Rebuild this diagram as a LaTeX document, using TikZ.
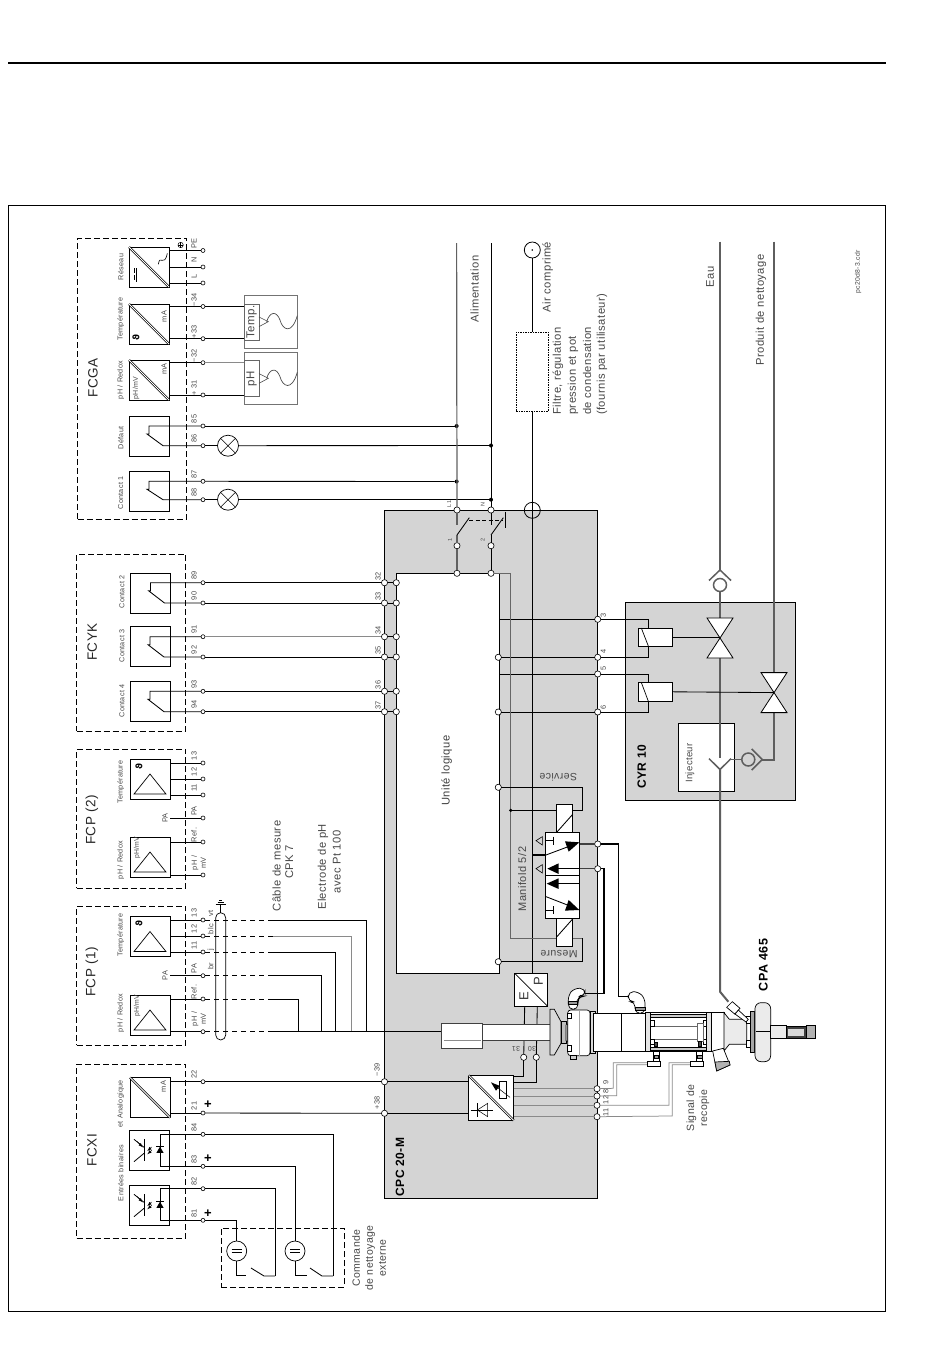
\documentclass[tikz,border=0pt]{standalone}
\usepackage{fontspec}
\setmainfont{Liberation Sans}[LetterSpace=4]
\newfontfamily\djv{DejaVu Sans}
\usetikzlibrary{calc}
\definecolor{cpanel}{HTML}{D4D4D4}
\definecolor{lab}{HTML}{484848}
\definecolor{pipec}{HTML}{5E5E5E}
\definecolor{swire}{HTML}{8A8A8A}
\tikzset{
 x=1pt,y=-1pt,
 wire/.style={black,line width=.85pt},
 gwire/.style={draw=swire,line width=.75pt},
 lline/.style={draw=black!62,line width=1.2pt},
 pipe/.style={draw=pipec,line width=2pt},
 airl/.style={draw=black,line width=1.6pt},
 dbox/.style={draw,dash pattern=on 6pt off 3pt,line width=.7pt},
 dwire/.style={wire,dash pattern=on 5pt off 4pt},
 term/.style={circle,draw,fill=white,inner sep=0,minimum size=4pt,line width=.6pt,outer sep=0},
 bterm/.style={circle,draw,fill=white,inner sep=0,minimum size=6.2pt,line width=.6pt,outer sep=0},
 jdot/.style={circle,fill=black,inner sep=0,minimum size=4pt,outer sep=0},
 tlab/.style={rotate=90,font=\fontsize{7.4}{8}\selectfont,text=lab,inner sep=0,align=center},
 ulab/.style={tlab,font=\fontsize{7.2}{8}\selectfont},
 unit/.style={draw,fill=white,minimum size=40pt,inner sep=0,outer sep=0,line width=.8pt},
 blk/.style={draw,fill=white,inner sep=0,outer sep=0,line width=.8pt},
 lamp/.style={circle,draw,fill=white,minimum size=21pt,inner sep=0,outer sep=0,line width=.7pt},
 ttl/.style={rotate=90,font=\fontsize{13.5}{15}\selectfont,text=black!85,inner sep=0},
 bigt/.style={rotate=90,font=\fontsize{11.2}{14}\selectfont,text=lab,inner sep=0,align=center},
 boldt/.style={rotate=90,font=\bfseries\fontsize{12}{14}\selectfont,inner sep=0},
 dbl/.style={double,double distance=.9pt,line width=.7pt},
}
\newcounter{tn}
\newcommand{\txt}[3]{\stepcounter{tn}\node[#1] (txt\arabic{tn}) at (#2) {#3};}
% terminal of a transmitter: name, y, label
\newcommand{\tm}[3]{\node[term] (#1) at (203,#2) {}; \node[tlab] (#1l) at (194,#2-7) {#3};}
\newcommand{\relay}[3]{\draw[wire] (#2) -- (#1.center |- #2) -- ++(0,8) -- ++(-2,0) -- ($(#1.center |- #3)+(14,0)$) -- (#3);}
\newcommand{\conv}[1]{\draw[dbl] (#1.north west) -- (#1.south east);}
\newcommand{\coil}[1]{\draw[line width=.7pt] ($(#1.south west)+(10,0)$) -- ($(#1.north west)+(3,0)$);}
\newcommand{\vlv}[2]{\draw[fill=white,line width=.8pt] (#1-13,#2-20) -- (#1+13,#2-20) -- (#1-13,#2+20) -- (#1+13,#2+20) -- cycle;}
\begin{document}
\begin{tikzpicture}
\useasboundingbox (0,0) rectangle (950,1370);
\fill[white] (0,0) rectangle (950,1370);
\draw[line width=1.3pt] (8,63) -- (886,63);
\draw[line width=.6pt] (8,205) rectangle (885,1311);

% ---------- panels
\node[draw,fill=cpanel,minimum width=213pt,minimum height=688pt,inner sep=0,outer sep=0,line width=.8pt] (cpc) at (491,854) {};
\node[draw,fill=white,minimum width=103pt,minimum height=400pt,inner sep=0,outer sep=0,line width=.8pt] (logic) at (447.8,773.2) {};
\node[draw,fill=cpanel,minimum width=170pt,minimum height=198pt,inner sep=0,outer sep=0,line width=.8pt] (cyr) at (710,701) {};

% ---------- dashed groups
\node[dbox,minimum width=109pt,minimum height=281pt,inner sep=0] (gFCGA) at (132,378.5) {};
\node[dbox,minimum width=109pt,minimum height=177pt,inner sep=0] (gFCYK) at (131.2,642.5) {};
\node[dbox,minimum width=109pt,minimum height=139pt,inner sep=0] (gF2) at (131.2,818.7) {};
\node[dbox,minimum width=109pt,minimum height=139pt,inner sep=0] (gF1) at (131.2,975.5) {};
\node[dbox,minimum width=109pt,minimum height=174pt,inner sep=0] (gX) at (131.2,1151) {};
\node[dbox,minimum width=123pt,minimum height=59pt,inner sep=0] (gC) at (282.5,1257.5) {};
\txt{ttl}{93,378}{FCGA}
\txt{ttl}{92.3,642}{FCYK}
\txt{ttl}{92,820}{FCP (2)}
\txt{ttl}{92,972}{FCP (1)}
\txt{ttl}{92,1150}{FCXI}

% ---------- units
\node[unit] (uRes) at (149,267) {};
\node[unit] (uTemp) at (149,324) {};
\node[unit] (uPh) at (149,380) {};
\node[unit] (uDef) at (149,436.5) {};
\node[unit] (uCa) at (149,491.5) {};
\node[unit] (uCb) at (150.5,593) {};
\node[unit] (uCc) at (150,646) {};
\node[unit] (uCd) at (150,701) {};
\node[unit] (ftB) at (150,779) {};
\node[unit] (fpB) at (150,857) {};
\node[unit] (ftA) at (150,936.5) {};
\node[unit] (fpA) at (150,1015) {};
\node[unit] (xA) at (150,1097.5) {};
\node[unit] (xC) at (149,1150) {};
\node[unit] (xB) at (149,1205) {};
\foreach \b in {uRes,uTemp,uPh,xA} {\conv{\b}}
\foreach \b in {ftB,fpB,ftA,fpA} {\draw[line width=.7pt] ($(\b.north)+(-16,35)$) -- ($(\b.north)+(0,15)$) -- ($(\b.north)+(16,35)$) -- cycle;}

% unit labels
\txt{ulab}{120.7,267}{Réseau}
\txt{ulab}{120.7,319}{Température}
\txt{ulab}{120.7,380}{pH / Redox}
\txt{ulab}{120.7,438}{Défaut}
\txt{ulab}{120.7,493}{Contact 1}
\txt{ulab}{122,592}{Contact 2}
\txt{ulab}{122,646}{Contact 3}
\txt{ulab}{122,701}{Contact 4}
\txt{ulab}{120.7,782}{Température}
\txt{ulab}{120.7,860}{pH / Redox}
\txt{ulab}{120.7,935}{Température}
\txt{ulab}{120.7,1013}{pH / Redox}
\txt{ulab}{120.7,1103.7}{et Analogique}
\txt{ulab}{120.7,1173}{Entrées binaires}
\txt{tlab,font=\fontsize{7}{8}\selectfont}{136,388}{pH/mV}
\txt{tlab}{164,316.7}{mA}
\txt{tlab}{164,369}{mA}
\txt{tlab}{163.3,1086.7}{mA}
\txt{tlab,font=\fontsize{6.8}{8}\selectfont}{137,848}{pH/mV}
\txt{tlab,font=\fontsize{6.8}{8}\selectfont}{137,1006}{pH/mV}
\txt{rotate=90,inner sep=0,font=\djv\bfseries\fontsize{9}{9}\selectfont}{136,338}{ϑ}
\txt{rotate=90,inner sep=0,font=\djv\bfseries\fontsize{9}{9}\selectfont}{139,767}{ϑ}
\txt{rotate=90,inner sep=0,font=\djv\bfseries\fontsize{9}{9}\selectfont}{139,924}{ϑ}

% Réseau symbols
\begin{scope}[shift={(60,225)},x=.3333pt,y=-.3333pt]
 \draw[line width=.6pt,dash pattern=on 5pt off 2pt] (222,130) -- (222,172);
 \draw[line width=.6pt] (230,130) -- (230,172);
 \draw[line width=.6pt] (295,118) .. controls (300,85) and (312,130) .. (322,85);
 \draw[line width=.5pt,fill=white] (362,60) circle (8);
 \draw[line width=.6pt] (354,60) -- (370,60) (362,52) -- (362,68);
\end{scope}

% ---------- terminals left
\tm{tPE}{250.5}{PE} \tm{tN}{267}{N} \tm{tL}{283}{L}
\tm{t34}{306.5}{−34} \tm{t33}{338.7}{+33} \tm{t32}{362.7}{−32} \tm{t31}{395}{+ 31}
\tm{t85}{426}{85} \tm{t86}{445.7}{86} \tm{t87}{481.3}{87} \tm{t88}{499.7}{88}
\tm{t89}{582.7}{89} \tm{t90}{603}{90} \tm{t91}{636.7}{91} \tm{t92}{657}{92} \tm{t93}{691.3}{93} \tm{t94}{711.7}{94}
\tm{bt13}{763}{13} \tm{bt12}{779}{12} \tm{bt11}{795}{11} \tm{btPA}{818}{PA} \tm{btRef}{842}{Ref.}
\node[term] (btpH) at (203,875) {}; \txt{tlab}{198.7,863}{pH /\\[1pt]mV}
\tm{at13}{920}{13} \tm{at12}{936}{12} \tm{at11}{952}{11} \tm{atPA}{975.7}{PA} \tm{atRef}{999}{Ref.}
\node[term] (atpH) at (203,1031.7) {}; \txt{tlab}{198.7,1019}{pH /\\[1pt]mV}
\tm{t22}{1081.7}{22} \tm{t21}{1113}{21} \tm{t84}{1134.3}{84} \tm{t83}{1166.3}{83} \tm{t82}{1188.7}{82} \tm{t81}{1220.3}{81}
\foreach \p/\q in {208/1105,208/1159,208/1214} {\txt{inner sep=0,font=\bfseries\fontsize{13}{13}\selectfont}{\p,\q}{+}}

% wires unit -> terminal
\foreach \u/\t in {uRes/tPE,uRes/tN,uRes/tL,uTemp/t34,uTemp/t33,uPh/t32,uPh/t31,ftB/bt13,ftB/bt12,ftB/bt11,fpB/btRef,fpB/btpH,ftA/at13,ftA/at12,ftA/at11,fpA/atRef,fpA/atpH,xA/t22,xA/t21}
 {\draw[wire] (\u.east |- \t) -- (\t);}
\coordinate (paB) at (170,818); \coordinate (paA) at (170,975.7);
\draw[wire] (paB) -- (btPA); \draw[wire] (paA) -- (atPA);
\txt{tlab}{165,818}{PA}
\txt{tlab}{165,975.7}{PA}
\relay{uDef}{t85}{t86}
\relay{uCa}{t87}{t88}
\relay{uCb}{t89}{t90}
\relay{uCc}{t91}{t92}
\relay{uCd}{t93}{t94}

% sensors
\node[draw=black!55,fill=white,minimum width=53.4pt,minimum height=52.6pt,inner sep=0,outer sep=0,line width=.8pt] (sT) at (271,322) {};
\node[draw=black!55,fill=white,minimum width=53.4pt,minimum height=52.6pt,inner sep=0,outer sep=0,line width=.8pt] (sP) at (271,378.5) {};
\node[draw=black!60,minimum width=15pt,minimum height=36pt,inner sep=0,outer sep=0,line width=.8pt] (sTi) at (251.7,322) {};
\node[draw=black!60,minimum width=15pt,minimum height=36pt,inner sep=0,outer sep=0,line width=.8pt] (sPi) at (251.7,378.7) {};
\txt{rotate=90,inner sep=0,font=\fontsize{11.5}{12}\selectfont,text=lab}{251.7,322}{Temp.}
\txt{rotate=90,inner sep=0,font=\fontsize{11.5}{12}\selectfont,text=lab}{251.7,378.7}{pH}
\draw[wire] (t34) -- (sT.west |- t34);
\draw[wire] (t33) -- (sT.west |- t33);
\draw[wire,draw=swire] (t32) -- (sP.west |- t32);
\draw[wire] (t31) -- (sP.west |- t31);
\foreach \dy in {0,170} {
 \begin{scope}[shift={(60,225)},x=.3333pt,y=-.3333pt]
  \draw[line width=.6pt,draw=black!70] (597,276+\dy) -- (625,290+\dy) -- (597,305+\dy);
  \draw[line width=.7pt,draw=black!70] (620,290+\dy) .. controls (630,258+\dy) and (650,258+\dy) .. (660,285+\dy) .. controls (668,315+\dy) and (695,330+\dy) .. (712,272+\dy);
 \end{scope}
}

% FCXI inputs
\foreach \ya/\yb/\yc/\yd/\dy in {t84/t83/1134.3/1166.3/0,t82/t81/1188.7/1220.3/55} {
 \draw[wire] (\ya) -- (160,\yc) -- (160,\yd) -- (\yb);
 \begin{scope}[yshift=-\dy pt]
 \begin{scope}[shift={(60,890)},x=.3333pt,y=-.3333pt]
  \draw[line width=.8pt] (252,748) -- (252,812);
  \draw[line width=.8pt] (252,772) -- (222,748);
  \draw[line width=.8pt] (252,790) -- (222,815);
  \draw[-latex,line width=.5pt] (232,755) -- (248,772);
  \draw[line width=.5pt,-latex] (275,771) -- (262,783);
  \draw[line width=.5pt,-latex] (275,781) -- (262,793);
  \fill (289,789) -- (311,789) -- (300,770) -- cycle;
  \draw[line width=.7pt] (289,770) -- (311,770);
 \end{scope}
 \end{scope}
}
% external cleaning command
\node[circle,draw,fill=white,minimum size=20pt,inner sep=0,outer sep=0,line width=.7pt] (psA) at (236.7,1251) {};
\node[circle,draw,fill=white,minimum size=20pt,inner sep=0,outer sep=0,line width=.7pt] (psB) at (295,1251) {};
\foreach \c in {psA,psB} {\draw[line width=.6pt] ($(\c.center)+(-5,-1.5)$) -- ($(\c.center)+(5,-1.5)$) ($(\c.center)+(-5,1.5)$) -- ($(\c.center)+(5,1.5)$);}
\draw[wire] (t81) -- (psA.north |- t81) -- (psA.north);
\draw[wire] (t83) -- (psB.north |- t83) -- (psB.north);
\draw[wire] (psA.south) -- (236.7,1275) -- (246,1275);
\draw[wire] (251,1268) -- (264,1276) -- (275,1276);
\draw[wire] (t82) -- (275,1188.7) -- (275,1276);
\draw[wire] (psB.south) -- (295,1275) -- (307,1275);
\draw[wire] (310,1268) -- (322,1276) -- (333,1276);
\draw[wire] (t84) -- (333,1134.3) -- (333,1276);

% cable FCP(1)
\draw[line width=.7pt,rounded corners=5pt] (215.7,912.7) rectangle (225.7,1040);
\draw[wire] (220.7,912.7) -- (220.7,904.7);
\draw[line width=.7pt] (215.7,904.7) -- (225.7,904.7) (217.5,902.3) -- (223.9,902.3) (219.2,900) -- (222.2,900);
\txt{tlab}{210.7,913}{vt}
\txt{tlab}{210.7,929}{blc}
\txt{tlab}{210.7,950}{j}
\txt{tlab}{210.7,966}{br}
\coordinate (a1) at (273,920); \coordinate (a2) at (273,936); \coordinate (a3) at (273,952);
\coordinate (a4) at (273,975.7); \coordinate (a5) at (273,999); \coordinate (a6) at (273,1031.7);
\draw[dwire] (at13) -- (a1); \draw[dwire] (at12) -- (a2); \draw[dwire] (at11) -- (a3);
\draw[dwire] (atPA) -- (a4); \draw[dwire] (atRef) -- (a5); \draw[dwire] (atpH) -- (a6);
\draw[wire] (a1) -| (366.7,1031.7);
\draw[wire,draw=swire] (a2) -| (351.7,1031.7);
\draw[wire] (a3) -| (335.7,1031.7);
\draw[wire] (a4) -| (321.7,1031.7);
\draw[wire] (a5) -| (298.7,1031.7);

% Long wires to CPC
\foreach \t/\n/\y in {t89/32/582.7,t90/33/603,t91/34/636.7,t92/35/657,t93/36/691.3,t94/37/711.7} {
 \node[bterm] (Lc\n) at (384.5,\y) {};
 \node[bterm] (Ic\n) at (396.3,\y) {};
 \draw[wire] (\t) -- (Lc\n);
 \draw[wire] (Lc\n) -- (Ic\n);
 \txt{tlab}{378,\y-6.5}{\n}
}
\draw[wire,draw=swire,line width=1.2pt] (t91) -- (Lc34);

% supply
\coordinate (Ltop) at (456.6,243); \coordinate (Ntop) at (491,243);
\node[bterm] (TLa) at (457,510) {}; \node[bterm] (TNa) at (491,510) {};
\node[bterm] (TLb) at (457,545.7) {}; \node[bterm] (TNb) at (491,545.7) {};
\node[bterm] (TLc) at (457,573.3) {}; \node[bterm] (TNc) at (491,573.3) {};
\node[jdot] (j85) at (456.6,426) {}; \node[jdot] (j86) at (491,445.5) {};
\node[jdot] (j87) at (456.6,481.5) {}; \node[jdot] (j88) at (491,499.7) {};
\node[lamp] (lA) at (228,445.7) {}; \node[lamp] (lB) at (228,499.7) {};
\foreach \l in {lA,lB} {\draw[line width=.6pt] (\l.45) -- (\l.225) (\l.135) -- (\l.315);}
\draw[wire] (t85) -- (j85); \draw[wire] (t86) -- (lA); \draw[wire] (lA) -- (j86);
\draw[wire] (t87) -- (j87); \draw[wire] (t88) -- (lB); \draw[wire] (lB) -- (j88);
\draw[lline] (Ltop) -- (TLa);
\draw[wire,line width=.9pt] (Ntop) -- (TNa);
\draw[lline] (TLa) -- (457,524.7);
\draw[wire] (TNa) -- (491,524.7);
\draw[lline] (TLb) -- (457,535);
\draw[wire] (TNb) -- (491,535);
\draw[lline] (TLb) -- (TLc);
\draw[wire] (TNb) -- (TNc);
\draw[wire] (457,535) -- (469.3,517.7);
\draw[wire] (491,535) -- (503.3,517.7);
\draw[wire,dash pattern=on 4pt off 2.5pt] (469,520.7) -- (503,520.7);
\draw[wire] (505.7,511.7) -- (505.7,527.7);
\txt{tlab,font=\fontsize{5.5}{6}\selectfont}{449.3,504}{L1}
\txt{tlab,font=\fontsize{5.5}{6}\selectfont}{482.7,505}{N}
\txt{tlab,font=\fontsize{5.5}{6}\selectfont}{450,540}{1}
\txt{tlab,font=\fontsize{5.5}{6}\selectfont}{482.7,540}{2}
\txt{bigt}{474.7,289}{Alimentation}

% air
\node[circle,draw,fill=white,minimum size=16pt,inner sep=0,outer sep=0,line width=.8pt] (airin) at (532.3,250) {};
\fill (532.3,250) circle (.9);
\node[draw,dash pattern=on 1.5pt off 1pt,fill=white,minimum width=32pt,minimum height=79pt,inner sep=0,outer sep=0,line width=.7pt] (filt) at (532.3,371.7) {};
\node[draw,fill=none,circle,minimum size=16pt,inner sep=0,outer sep=0,line width=.8pt] (airpass) at (532.3,510.3) {};
\node[blk,minimum size=33pt] (ep) at (531.2,989.8) {};
\draw[wire,line width=.9pt] (airin) -- (filt);
\draw[airl] (filt) -- (532.3,973.3);
\draw[wire] (airpass.west) -- (airpass.east);
\draw[line width=.7pt] (ep.north west) -- (ep.south east);
\txt{rotate=90,inner sep=0,font=\fontsize{13}{13}\selectfont,text=black!80}{524,996}{E}
\txt{rotate=90,inner sep=0,font=\fontsize{13}{13}\selectfont,text=black!80}{538.3,980.7}{P}
\txt{bigt}{547.7,277}{Air comprimé}
\txt{bigt,anchor=west}{558,415}{Filtre, régulation}
\txt{bigt,anchor=west}{573,415}{pression et pot}
\txt{bigt,anchor=west}{587,415}{de condensation}
\txt{bigt,anchor=west}{602,415}{(fournis par utilisateur)}

% right side of logic unit
\node[bterm] (Ra) at (597.7,619.3) {}; \node[bterm] (Rb) at (597.7,657.3) {};
\node[bterm] (Rc) at (597.7,674) {}; \node[bterm] (Rd) at (597.7,712) {};
\node[bterm] (Ib) at (498.3,657.3) {}; \node[bterm] (Id) at (498.3,712) {};
\node[bterm] (Ise) at (498.3,787.3) {}; \node[bterm] (Ime) at (498.3,961.7) {};
\draw[wire] (logic.east |- Ra) -- (Ra); \draw[wire] (Ib) -- (Rb);
\draw[wire] (logic.east |- Rc) -- (Rc); \draw[wire] (Id) -- (Rd);
\txt{tlab}{603.3,615.7}{3}
\txt{tlab}{603.3,651.7}{4}
\txt{tlab}{603.3,668.3}{5}
\txt{tlab}{603.3,707.3}{6}
\txt{bigt,text=black!75}{446.7,770.7}{Unité logique}

% service gas line
\draw[draw=black!60,line width=.9pt] (TNc) -- (510.7,573.3) -- (510.7,938.3) -- (582.3,938.3);
\draw[wire] (Ime) -- (582.3,961.7) -- (582.3,938.3);
\node[jdot,minimum size=3.5pt] (jSe) at (510.7,810.3) {};
\draw[wire] (Ise) -- (582.3,787.3) -- (582.3,810.3) -- (jSe);

% manifold
\node[blk,minimum width=16pt,minimum height=27.6pt] (solU) at (564.7,818.5) {};
\node[blk,minimum width=16pt,minimum height=27.6pt] (solD) at (564.7,932.1) {};
\draw[wire] (solU.south west) -- ++(16,-18);
\draw[wire] (solD.south west) ++(0,-9) -- ++(16,-18);
\node[blk,minimum width=33.8pt,minimum height=86pt] (mfd) at (562.6,875.3) {};
\begin{scope}[shift={(490,770)},x=.3333pt,y=-.3333pt]
 \draw[wire] (166,316) -- (269,316);
 \draw[wire] (168,255) -- (240,228);
 \fill (268,217) -- (225,214) -- (236,245) -- cycle;
 \draw[wire] (200,296) -- (269,296);
 \fill (172,296) -- (206,280) -- (206,312) -- cycle;
 \draw[wire] (200,341) -- (269,341);
 \fill (170,341) -- (206,325) -- (206,357) -- cycle;
 \draw[wire] (168,380) -- (240,408);
 \fill (268,420) -- (236,390) -- (225,422) -- cycle;
 \draw[wire] (166,212) -- (190,212) (190,200) -- (190,224);
 \draw[wire] (166,421) -- (190,421) (190,409) -- (190,433);
 \draw[line width=.6pt,fill=cpanel] (138,212) -- (157,200) -- (157,225) -- cycle;
 \draw[line width=.6pt,fill=cpanel] (138,296) -- (157,284) -- (157,309) -- cycle;
\end{scope}
\draw[airl] (532.3,855) -- (545.7,855);
\txt{bigt,font=\fontsize{11}{12}\selectfont}{522.3,879}{Manifold 5/2}
\txt{inner sep=0,rotate=180,font=\fontsize{10.5}{11}\selectfont,text=lab}{558.3,777.7}{Service}
\txt{inner sep=0,rotate=180,font=\fontsize{10.5}{11}\selectfont,text=lab}{559,954}{Mesure}
\node[bterm] (Mx) at (597.7,844) {}; \node[bterm] (My) at (597.7,868.7) {};
\draw[draw=black!75,line width=1.2pt] (mfd.east |- Mx) -- (Mx);
\draw[draw=black!75,line width=1.2pt] (mfd.east |- My) -- (My);
\draw[wire,line width=1.4pt] (Mx) -- (618.3,844) -- (618.3,996.7) -- (628.3,996.7);
\draw[wire,line width=1.4pt] (My) -- (604,868.7) -- (604,993.3) -- (585,993.3);

% transducer
\node[bterm] (L39) at (384.5,1081.7) {}; \node[bterm] (L38) at (384.5,1113.3) {};
\node[blk,minimum size=45pt] (tr) at (491.2,1098) {};
\conv{tr}
\draw[wire] (t22) -- (L39); \draw[wire] (t21) -- (L38);
\draw[wire] (L39) -- (tr.west |- L39); \draw[wire] (L38) -- (tr.west |- L38);
\txt{tlab}{377,1070}{−39}
\txt{tlab}{377,1103}{+38}
\begin{scope}[shift={(420,960)},x=.3333pt,y=-.3333pt]
 \draw[line width=.6pt,fill=white] (238,364) rectangle (260,415);
 \draw[line width=.5pt] (270,412) -- (235,385);
 \fill (213,367) -- (240,378) -- (228,392) -- cycle;
 \draw[line width=.5pt] (152,450) -- (218,450);
 \draw[line width=.5pt] (172,430) -- (172,470);
 \draw[line width=.5pt] (172,450) -- (203,430) -- (203,470) -- cycle;
\end{scope}
\node[bterm] (T31) at (523.7,1057.3) {}; \node[bterm] (T30) at (536.3,1057.3) {};
\draw[wire] (524.7,1006.3) -- (T31); \draw[wire] (537.3,1006.3) -- (T30);
\draw[wire] (T31) -- (523.7,1076.3) -- (513.7,1076.3);
\draw[wire] (T30) -- (536.3,1082.3) -- (513.7,1082.3);
\txt{inner sep=0,rotate=180,font=\fontsize{7}{8}\selectfont,text=lab}{516,1049.3}{31}
\txt{inner sep=0,rotate=180,font=\fontsize{7}{8}\selectfont,text=lab}{532,1049.3}{30}
\node[bterm] (R9) at (597,1088.7) {}; \node[bterm] (R8) at (597,1096) {};
\node[bterm] (R12) at (597,1105.3) {}; \node[bterm] (R11) at (597,1116.7) {};
\foreach \r in {R9,R8,R12,R11} {\draw[gwire,line width=1pt] (tr.east |- \r) -- (\r);}
\txt{tlab}{605.7,1082.7}{9}
\txt{tlab}{605.7,1091.7}{8}
\txt{tlab}{605.7,1100}{12}
\txt{tlab}{605.7,1112}{11}
\txt{boldt}{400,1167}{CPC 20-M}
\txt{boldt}{641.7,767}{CYR 10}
\txt{boldt,font=\bfseries\fontsize{12.5}{14}\selectfont}{763.3,965}{CPA 465}

% feedback lines
\begin{scope}[shift={(600,920)},x=.3333pt,y=-.3333pt]
 \draw[gwire] (R9) -- (40,505) -- (40,428) -- (150,428);
 \draw[gwire] (R8) -- (50,527) -- (50,434) -- (150,434);
 \draw[gwire] (R12) -- (207,556) -- (207,428) -- (280,428);
 \draw[gwire] (R11) -- (217,588) -- (217,434) -- (280,434);
\end{scope}
\txt{bigt,font=\fontsize{10.5}{13}\selectfont}{698,1108}{Signal de\\recopie}

% CYR 10
\node[blk,minimum width=34pt,minimum height=18pt] (coA) at (655.3,637) {};
\node[blk,minimum width=34pt,minimum height=18.8pt] (coB) at (655.3,691.8) {};
\coil{coA}\coil{coB}
\draw[wire] (Ra) -| ($(coA.north west)+(10,0)$);
\draw[wire] (Rb) -| ($(coA.south west)+(10,0)$);
\draw[wire] (Rc) -| ($(coB.north west)+(10,0)$);
\draw[wire] (Rd) -| ($(coB.south west)+(10,0)$);
\node[blk,minimum width=56pt,minimum height=68.4pt] (inj) at (706.3,757.2) {};
\txt{bigt,font=\fontsize{9.5}{11}\selectfont}{690,763}{Injecteur}
\coordinate (eauT) at (720,241.6); \coordinate (prodT) at (774,241.6);
\node[circle,draw=pipec,line width=1.5pt,inner sep=0,minimum size=13pt,outer sep=0] (chkA) at (720,585) {};
\draw[pipe] (eauT) -- (720,570);
\draw[pipe,line width=1.5pt] (709,580.5) -- (720,570) -- (731,580.5);
\draw[pipe] (chkA) -- (720,757.5);
\draw[pipe] (prodT) -- (774,759.5) -- (762.3,759.5);
\node[circle,draw=pipec,line width=1.5pt,inner sep=0,minimum size=13pt,outer sep=0] (chkB) at (748.3,759.5) {};
\draw[pipe,line width=1.5pt] (751.7,749) -- (762.3,759.5) -- (751.7,770);
\draw[pipe,line width=1.4pt] (chkB) -- (729,759.5);
\draw[pipe,line width=1.5pt] (709,758.6) -- (720,769.5) -- (731,758.6);
\vlv{720}{638}
\vlv{774}{692.6}
\draw[wire] (coA.east) -- (720,637);
\draw[wire] (coB.east) -- (774,692.6);
\coordinate (inlet) at (728.3,1001.7);
\draw[pipe] (720,769.5) -- (720,991.7) -- (inlet);
\txt{bigt}{710,277}{Eau}
\txt{bigt}{761,310}{Produit de nettoyage}
\txt{tlab,font=\fontsize{6.8}{7}\selectfont}{858,272}{pc20d8-3.cdr}
\txt{bigt}{276.7,866}{Câble de mesure}
\txt{bigt}{289.3,862}{CPK 7}
\txt{bigt}{323,867}{Electrode de pH}
\txt{bigt}{336.7,862}{avec Pt 100}
\txt{bigt,font=\fontsize{10.5}{13}\selectfont}{369,1258}{Commande\\de nettoyage\\externe}

% ---------- armature: rod
\node[blk,draw=black!75,minimum width=41pt,minimum height=24.3pt] (rodb) at (461.8,1035.8) {};
\draw[wire] (a6) -- (rodb.west |- a6);
\draw[draw=black!45,line width=.9pt] (443.5,1040.3) -- (480.5,1040.3);
\begin{scope}[shift={(420,960)},x=.3333pt,y=-.3333pt,line width=.7pt]
 \draw[fill=white,draw=black!75] (187,192) rectangle (390,241);
 \draw[fill=black!15] (390,148) -- (403,148) -- (423,185) -- (423,250) -- (403,285) -- (390,285) -- cycle;
 \draw[fill=black!25] (423,185) rectangle (438,250);
 \draw[fill=black!10,rounded corners=1pt] (438,192) rectangle (444,245);
 \draw[fill=white,rounded corners=3pt] (443,150) rectangle (510,287);
 \draw[draw=black!35] (478,150) -- (478,287);
 \draw[fill=black!15] (510,155) rectangle (525,280);
 \draw[fill=white] (525,160) rectangle (533,275);
 \draw[fill=white] (443,160) rectangle (455,176);
 \draw[fill=white] (443,257) rectangle (455,273);
 \draw[fill=black!20] (452,287) rectangle (468,298);
 % elbow
 \draw[fill=white,rounded corners=5pt] (445,148) -- (445,105) -- (462,85) -- (495,85) -- (495,108) -- (480,108) -- (474,118) -- (474,148) -- cycle;
 \draw[fill=black!40] (446,125) rectangle (473,133);
\end{scope}
\begin{scope}[shift={(600,920)},x=.3333pt,y=-.3333pt,line width=.7pt]
 % body
 \draw[fill=white] (-20,280) rectangle (64,393);
 \draw[fill=white] (64,280) rectangle (137,393);
 \draw[fill=black!10] (137,278) rectangle (152,393);
 % cage
 \draw[fill=white] (152,278) rectangle (320,393);
 \draw[fill=black!20] (152,283) rectangle (320,292);
 \draw[fill=black!20] (152,382) rectangle (320,390);
 \draw[draw=black!60] (160,318) -- (312,318) (160,358) -- (312,358);
 \draw[fill=white] (152,302) rectangle (162,318);
 \draw[fill=white] (152,358) rectangle (162,372);
 \draw[fill=white] (310,302) rectangle (320,318);
 \draw[fill=white] (310,358) rectangle (320,372);
 \draw[fill=white,draw=black!60] (292,310) rectangle (310,365);
 \draw[fill=black!70] (163,368) rectangle (173,378);
 \draw[fill=black!70] (295,365) rectangle (305,378);
 \draw[fill=black!10] (320,278) rectangle (335,393);
 \draw[fill=white] (335,278) rectangle (372,393);
 % cone and neck
 \draw[fill=black!8] (372,278) -- (388,298) -- (440,298) -- (440,373) -- (388,373) -- (372,393) -- cycle;
 \draw[fill=white] (440,290) rectangle (450,310);
 \draw[fill=white] (440,362) rectangle (450,382);
 \draw[fill=black!35] (450,275) rectangle (462,397);
 % disc
 \draw[fill=black!8,rounded corners=6pt] (465,248) rectangle (512,425);
 \draw[line width=1.1pt] (468,335) -- (510,335);
 % stem
 \draw[fill=black!8] (512,316) rectangle (558,355);
 \draw[fill=black!75] (558,318) rectangle (620,355);
 \draw[fill=black!15,draw=none] (565,326) rectangle (612,347);
 \draw[fill=black!30] (620,316) rectangle (647,355);
 % rinse fitting
 \draw[fill=white] (415,270) -- (445,298) -- (438,306) -- (405,282) -- cycle;
 \draw[fill=white] (380,262) -- (397,245) -- (420,265) -- (404,282) -- cycle;
 % outlet
 \draw[fill=white] (338,393) -- (370,385) -- (390,435) -- (350,453) -- cycle;
 \draw[fill=black!30] (345,426) -- (388,424) -- (390,435) -- (350,453) -- cycle;
 % fittings
 \foreach \fx in {0,130} {
  \draw[fill=white] (160+\fx,393) rectangle (178+\fx,425);
  \draw[fill=black!40] (162+\fx,405) rectangle (176+\fx,415);
  \draw[fill=white] (141+\fx,423) rectangle (180+\fx,440);
 }
 % top elbow
 \draw[fill=white,rounded corners=5pt] (85,215) -- (115,215) -- (135,235) -- (135,280) -- (105,280) -- (105,245) -- (85,245) -- cycle;
 \draw[fill=black!40] (105,262) rectangle (135,270);
\end{scope}
\end{tikzpicture}
\end{document}
